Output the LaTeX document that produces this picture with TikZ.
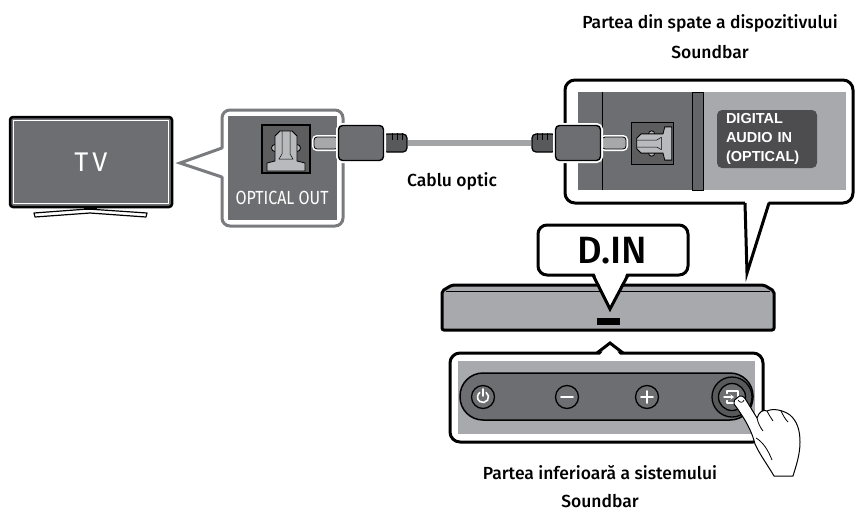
\documentclass[tikz,border=0pt]{standalone}
\usepackage{graphicx}
\usepackage{fontspec}
\setmainfont{Fira Sans}[UprightFont=* Medium]
\newfontfamily\plainfont{Fira Sans}
\newfontfamily\panelfont{Liberation Sans}
\usetikzlibrary{arrows.meta}

\definecolor{panelgray}{HTML}{6D6E71}
\definecolor{rimgray}{HTML}{7A7B7E}
\definecolor{barsilver}{HTML}{A7A9AC}
\definecolor{cablegray}{HTML}{A3A4A6}
\definecolor{plugdark}{HTML}{58595B}
\definecolor{labeldark}{HTML}{4D4D4F}

\tikzset{
  caption/.style={font=\fontsize{17.5}{30}\selectfont, align=center, inner sep=0pt},
  balloon/.style={draw=black, line width=3pt, fill=white, rounded corners=9pt},
  tvscreen/.style={draw=black, line width=2.5pt, fill=panelgray, rounded corners=3pt,
    minimum width=162pt, minimum height=90pt, text=white,
    font=\plainfont\fontsize{27}{27}\selectfont},
  plugbody/.style={draw=black, line width=1.4pt, fill=panelgray, rounded corners=4pt,
    minimum width=45pt, minimum height=35pt, inner sep=0pt,
    preaction={draw=white, line width=5pt}},
  plugtip/.style={draw=black, line width=0.8pt, fill=panelgray!60!white, rounded corners=3pt,
    minimum width=24pt, minimum height=12pt, inner sep=0pt,
    preaction={draw=white, line width=4pt}},
  relief/.style={draw=black, line width=1.2pt, fill=plugdark, rounded corners=4pt,
    minimum width=24pt, minimum height=18pt, inner sep=0pt},
  labelbox/.style={fill=labeldark, rounded corners=5pt, text=white, align=left,
    font=\panelfont\bfseries\fontsize{14.5}{19}\selectfont,
    minimum height=58pt, text width=82pt, inner xsep=9pt},
  button/.style={circle, draw=black, line width=1.3pt, fill=panelgray, minimum size=23pt, inner sep=0pt},
  icon/.style={draw=white, line width=1.6pt, line cap=round},
}

% optical socket: x, y, rotation, scale
\newcommand{\optport}[4]{%
  \begin{scope}[shift={(#1,#2)}, rotate=#3, scale=#4]
    \filldraw[fill=panelgray!85!black, draw=black, line width=1.2pt] (-24,-24) rectangle (24,24);
    \filldraw[fill=barsilver!80!white, draw=black, line width=0.8pt] (-11,-1) circle (3.5) (11,-1) circle (3.5);
    \filldraw[fill=barsilver!80!white, draw=black, line width=0.8pt]
      (-6,-18) -- (6,-18) -- (11,-13) -- (11,12) -- (19,14) -- (19,22)
      -- (-19,22) -- (-19,14) -- (-11,12) -- (-11,-13) -- cycle;
    \draw[line width=0.5pt] (-4,-18) -- (-4,5) -- (-7,10) -- (7,10) -- (4,5) -- (4,-18);
  \end{scope}}

\begin{document}
\begin{tikzpicture}[x=1pt, y=-1pt]
  \useasboundingbox (0,0) rectangle (856,512);

  % TV
  \filldraw[fill=white, line width=1.2pt, line join=round]
    (34,213) -- (88,209) -- (147,213) -- (146,217) -- (90,213) -- (35,217) -- cycle;
  \fill (84,206) rectangle (97,210);
  \node[tvscreen] (tv) at (91,162) {\addfontfeature{LetterSpace=15}TV};
  \draw[white, line width=1pt] ([shift={(5,5)}]tv.north west) rectangle ([shift={(-5,-5)}]tv.south east);

  % OPTICAL OUT balloon
  \filldraw[fill=white, draw=rimgray, line width=3pt, rounded corners=8pt] (222,110) rectangle (343,226);
  \fill[white] (225,148) -- (180,163) -- (225,177) -- cycle;
  \draw[rimgray, line width=3pt] (222,148) -- (180,163) -- (222,177);
  \fill[panelgray] (228,116) rectangle (337,220);
  \optport{286}{149}{0}{1}
  \node[text=white, font=\plainfont\fontsize{19}{19}\selectfont, inner sep=0pt] (outlabel)
    at (282,198) {\scalebox{0.84}[1]{OPTICAL OUT}};

  % back panel balloon
  \filldraw[balloon, rounded corners=10pt] (565,80) rectangle (853,203);
  \fill[white] (745,200) -- (747,273) -- (769,200) -- cycle;
  \draw[line width=3pt] (745,203) -- (747,273) -- (769,203);
  \fill[panelgray] (578,92) rectangle (703,190);
  \fill[barsilver] (703,92) rectangle (846,190);
  \filldraw[fill=panelgray!92!black, line width=0.8pt] (692,92) rectangle (703,190);
  \draw[line width=1pt] (602,92) -- (602,190);
  \optport{652.5}{143.5}{90}{0.875}
  \node[labelbox] (inlabel) at (767,139) {DIGITAL\\AUDIO IN\\(OPTICAL)};

  % Cable
  \node[plugtip] (ltip) at (326,143) {};
  \node[relief] (lrelief) at (395,143) {};
  \node[plugbody] (lbody) at (361,143) {};
  \node[plugtip] (rtip) at (614,143) {};
  \node[relief] (rrelief) at (544,143) {};
  \node[plugbody] (rbody) at (578,143) {};
  \draw[cablegray, line width=6pt] (lrelief.east) -- (rrelief.west);
  \foreach \dx in {-3,2,7} \draw[line width=0.8pt] ([xshift=\dx pt]lrelief.north) -- ++(0,7);
  \foreach \dx in {-7,-2,3} \draw[line width=0.8pt] ([xshift=\dx pt]rrelief.north) -- ++(0,7);
  \node[font=\fontsize{17.5}{20}\selectfont, inner sep=0pt] (cablelabel) at (452,181) {Cablu optic};

  % Soundbar
  \filldraw[fill=barsilver, line width=3pt, rounded corners=2pt]
    (442,291) -- (452,285) -- (764,285) -- (774,291) -- (774,330) -- (442,330) -- cycle;
  \draw[line width=1pt] (446,291) -- (770,291);
  \fill (597,318) rectangle (620,325);

  % D.IN balloon
  \filldraw[balloon] (538,225) rectangle (688,275);
  \fill[white] (594,272) -- (610,309) -- (627,272) -- cycle;
  \draw[line width=3pt] (593,275) -- (610,309) -- (628,275);
  \node[font=\fontsize{38}{40}\selectfont, inner sep=0pt] (din) at (612,251) {D.IN};

  % bottom balloon with buttons
  \filldraw[balloon, rounded corners=10pt] (450,353) rectangle (763,442);
  \fill[white] (599,356) -- (610,343) -- (621,356) -- cycle;
  \draw[line width=3pt] (597,353) -- (610,343) -- (623,353);
  \fill[barsilver] (458,361) rectangle (755,434);
  \filldraw[fill=panelgray, line width=1.5pt, rounded corners=23pt] (460,373) rectangle (753,420);
  \node[button] (powerbtn) at (483,397) {};
  \node[button] (minusbtn) at (567,397) {};
  \node[button] (plusbtn) at (647,397) {};
  \node[circle, draw=black, line width=1.3pt, fill=plugdark, minimum size=40pt] (inputring) at (732,397) {};
  \node[button, minimum size=27pt] (inputbtn) at (732,397) {};
  \draw[icon] (powerbtn.center) ++(-55:5.5) arc (-55:235:5.5);
  \draw[icon] (powerbtn.center) ++(0,-1) -- ++(0,-7);
  \draw[icon] ([xshift=-6pt]minusbtn.center) -- ([xshift=6pt]minusbtn.center);
  \draw[icon] ([xshift=-6pt]plusbtn.center) -- ([xshift=6pt]plusbtn.center);
  \draw[icon] ([yshift=-6pt]plusbtn.center) -- ([yshift=6pt]plusbtn.center);
  \draw[icon, line width=1.4pt, line join=round]
    ([shift={(-5,-3.5)}]inputbtn.center) -- ([shift={(-5,-6)}]inputbtn.center)
    -- ([shift={(6,-6)}]inputbtn.center) -- ([shift={(6,6)}]inputbtn.center)
    -- ([shift={(-5,6)}]inputbtn.center) -- ([shift={(-5,3.5)}]inputbtn.center);
  \draw[icon, line width=1.4pt, -{Stealth[length=3.5pt,width=5pt]}]
    ([xshift=-8pt]inputbtn.center) -- ([xshift=2pt]inputbtn.center);

  % hand
  \filldraw[fill=white, line width=1pt, line join=round]
    (737,398) .. controls (740,394) and (744,396) .. (746,400)
    -- (757,418)
    .. controls (759,412) and (763,409) .. (767,411)
    .. controls (773,408) and (783,410) .. (790,415)
    .. controls (797,421) and (800,430) .. (800,442)
    .. controls (800,455) and (796,466) .. (793,476)
    -- (774,476)
    .. controls (767,464) and (760,455) .. (755,444)
    .. controls (752,432) and (746,420) .. (734,404)
    .. controls (733,401) and (735,399) .. (737,398) -- cycle;
  \draw[line width=0.7pt] (738,400) .. controls (740,403) and (743,403) .. (744,400);
  \draw[line width=0.8pt] (757,418) .. controls (758,423) and (760,427) .. (763,431);
  \draw[line width=0.8pt] (767,411) .. controls (769,415) and (771,418) .. (773,421);
  \draw[line width=0.8pt] (781,411) .. controls (783,415) and (785,419) .. (788,422);
  \draw[line width=0.8pt] (756,438) .. controls (763,442) and (768,450) .. (772,460);

  % captions
  \node[caption] (backcap) at (710,37) {Partea din spate a dispozitivului\\Soundbar};
  \node[caption, font=\fontsize{17.5}{27.5}\selectfont] (bottomcap) at (600,486.5) {Partea inferioară a sistemului\\Soundbar};
\end{tikzpicture}
\end{document}
